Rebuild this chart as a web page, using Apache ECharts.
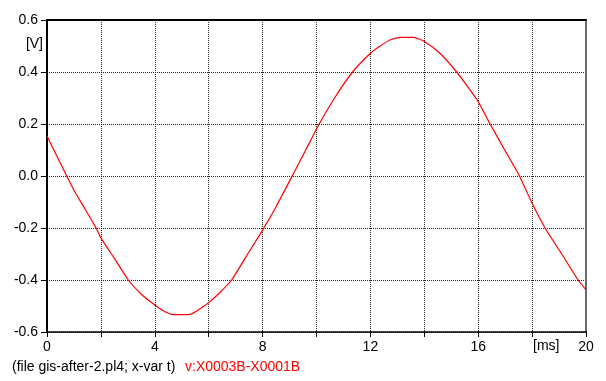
<!DOCTYPE html>
<html>
<head>
<meta charset="utf-8">
<script src="https://cdn.jsdelivr.net/npm/echarts@6/dist/echarts.min.js"></script>
<style>
  html, body { margin: 0; padding: 0; background: #fff; }
  #chart { width: 606px; height: 381px; }
</style>
</head>
<body>
<div id="chart"></div>
<script>
// Time base [ms] and node voltage difference [V]
const timeMs = [0, 0.35, 0.73, 1.0, 1.4, 1.82, 2.0, 2.5, 3.02, 3.5, 4.0, 4.38, 4.63, 5.0, 5.31, 5.79, 6.0, 6.4, 6.85, 7.4, 8.0, 8.5, 9.1, 9.6, 10.1, 10.7, 11.34, 12.0, 12.36, 12.73, 13.1, 13.6, 14.0, 14.6, 15.2, 15.6, 16.0, 16.44, 17.0, 17.53, 18.0, 18.48, 19.1, 19.71, 20];
const voltage = [0.154, 0.08, 0, -0.055, -0.125, -0.2, -0.238, -0.317, -0.4, -0.455, -0.496, -0.522, -0.532, -0.533, -0.532, -0.503, -0.487, -0.45, -0.4, -0.308, -0.208, -0.118, 0, 0.1, 0.2, 0.305, 0.4, 0.472, 0.5, 0.523, 0.533, 0.533, 0.517, 0.47, 0.4, 0.345, 0.286, 0.2, 0.097, 0, -0.105, -0.2, -0.3, -0.4, -0.438];

const xTickLabels = { 0: '0', 4: '4', 8: '8', 12: '12', 16: '16', 20: '20' };
const yTickLabels = ['-0.6', '-0.4', '-0.2', '0.0', '0.2', '0.4', '0.6'];
const xUnit = '[ms]';
const yUnit = '[V]';
const fileNote = '(file gis-after-2.pl4; x-var t)';
const seriesName = 'v:X0003B-X0001B';

const FONT = '"Liberation Sans", Arial, sans-serif';
const chart = echarts.init(document.getElementById('chart'), null, { renderer: 'canvas' });

const gridLine = { show: true, lineStyle: { color: '#222', width: 1, type: [1, 1] } };

chart.setOption({
  animation: false,
  backgroundColor: '#fff',
  grid: { left: 47, right: 20, top: 20, bottom: 49, containLabel: false },
  xAxis: [
    {
      type: 'value', min: 0, max: 20, interval: 2,
      axisLine: { show: true, onZero: false, lineStyle: { color: '#000', width: 1.5 } },
      axisTick: { show: true, length: 5, lineStyle: { color: '#000', width: 1 } },
      axisLabel: {
        margin: 8, color: '#000', fontSize: 14, fontFamily: FONT,
        formatter: v => (xTickLabels[Math.round(v)] !== undefined ? xTickLabels[Math.round(v)] : '')
      },
      splitLine: gridLine
    },
    {
      type: 'value', min: 0, max: 20, position: 'top',
      axisLine: { show: true, onZero: false, lineStyle: { color: '#000', width: 2 } },
      axisTick: { show: false }, axisLabel: { show: false }, splitLine: { show: false }
    }
  ],
  yAxis: [
    {
      type: 'value', min: -0.6, max: 0.6, interval: 0.2,
      axisLine: { show: true, onZero: false, lineStyle: { color: '#000', width: 2 } },
      axisTick: { show: true, length: 6, lineStyle: { color: '#000', width: 1 } },
      axisLabel: {
        margin: 9, color: '#000', fontSize: 14, fontFamily: FONT,
        formatter: v => yTickLabels[Math.round((v + 0.6) / 0.2)]
      },
      splitLine: gridLine
    },
    {
      type: 'value', min: -0.6, max: 0.6, position: 'right',
      axisLine: { show: true, onZero: false, lineStyle: { color: '#6a6a6a', width: 2 } },
      axisTick: { show: false }, axisLabel: { show: false }, splitLine: { show: false }
    }
  ],
  series: [
    {
      name: seriesName,
      type: 'line',
      xAxisIndex: 0, yAxisIndex: 0,
      data: timeMs.map((t, i) => [t, voltage[i]]),
      showSymbol: false,
      smooth: 0.2,
      lineStyle: { color: '#ff0000', width: 1.2 },
      clip: true
    }
  ],
  graphic: [
    {
      type: 'text', left: 533, top: 339,
      style: { text: xUnit, fill: '#000', font: '14px ' + FONT }
    },
    {
      type: 'text', right: 563, top: 37,
      style: { text: yUnit, fill: '#000', font: '14px ' + FONT }
    },
    {
      type: 'text', left: 12, top: 360,
      style: { text: fileNote, fill: '#000', font: '14px ' + FONT }
    },
    {
      type: 'text', left: 185, top: 360,
      style: { text: seriesName, fill: '#ff0000', font: '14px ' + FONT }
    }
  ]
});
</script>
</body>
</html>
